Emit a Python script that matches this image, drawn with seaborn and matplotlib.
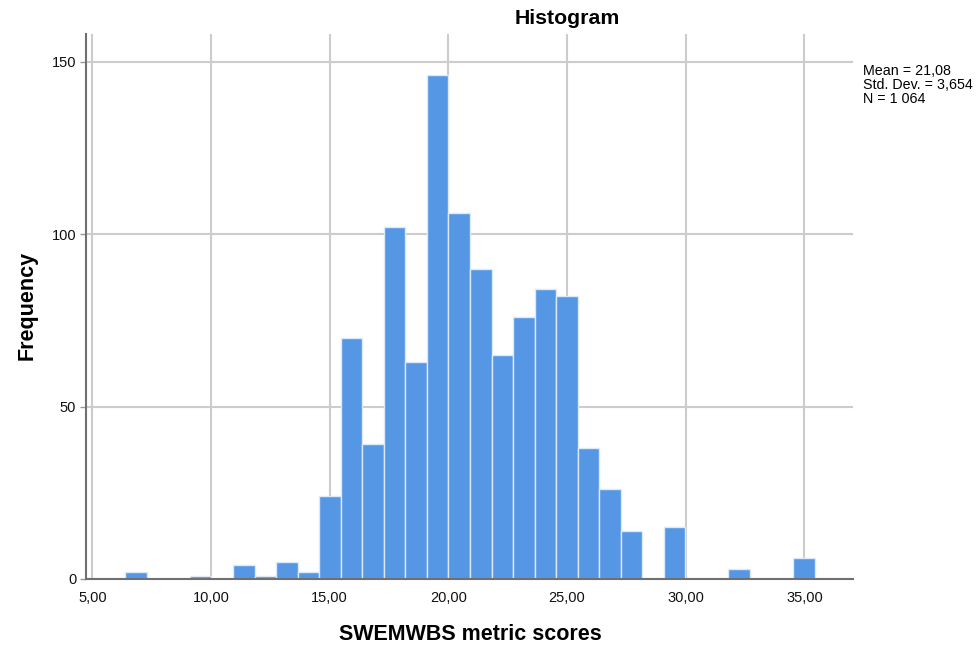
import numpy as np
import pandas as pd
import matplotlib
matplotlib.use("Agg")
import matplotlib.pyplot as plt
import seaborn as sns

# Histogram bins (32 bins of equal width)
bin_start = 6.385
bin_width = 0.9078
counts = [2, 0, 0, 1, 0, 4, 1, 5, 2, 24, 70, 39, 102, 63, 146, 106,
          90, 65, 76, 84, 82, 38, 26, 14, 0, 15, 0, 0, 3, 0, 0, 6]
x_ticks = [5, 10, 15, 20, 25, 30, 35]
x_tick_labels = ["5,00", "10,00", "15,00", "20,00", "25,00", "30,00", "35,00"]
y_ticks = [0, 50, 100, 150]
stats_text = "Mean = 21,08\nStd. Dev. = 3,654\nN = 1 064"

edges = bin_start + bin_width * np.arange(len(counts) + 1)
df = pd.DataFrame({"score": (edges[:-1] + edges[1:]) / 2, "n": counts})

sns.set_theme(style="white")
plt.rcParams["font.family"] = ["Liberation Sans", "DejaVu Sans"]

fig = plt.figure(figsize=(9.79, 6.48), dpi=100)
ax = fig.add_axes([86 / 979, 1 - 579 / 648, (853 - 86) / 979, (579 - 34) / 648])

sns.histplot(data=df, x="score", weights="n", binwidth=bin_width,
             binrange=(edges[0], edges[-1]), ax=ax,
             color="#5596e5", alpha=1, edgecolor="#dce9f8", linewidth=1)

ax.set_xlim(4.73, 37.05)
ax.set_ylim(0, 158)
ax.set_xticks(x_ticks)
ax.set_xticklabels(x_tick_labels)
ax.set_yticks(y_ticks)
ax.grid(True, color="#cccccc", linewidth=1.5)
ax.set_axisbelow(True)

for side in ["top", "right"]:
    ax.spines[side].set_visible(False)
for side in ["left", "bottom"]:
    ax.spines[side].set_color("#707070")
    ax.spines[side].set_linewidth(1.5)

ax.tick_params(axis="x", length=0, pad=9, labelsize=10.5, colors="#111111")
ax.tick_params(axis="y", length=4, width=1, color="#999999", pad=3,
               labelsize=10.5, labelcolor="#111111", left=True)

ax.set_xlabel("SWEMWBS metric scores", fontsize=15.5, fontweight="bold", color="black")
ax.set_ylabel("Frequency", fontsize=15.5, fontweight="bold", color="black")
ax.xaxis.set_label_coords((470 - 86) / 767, -(635 - 579) / 545)
ax.yaxis.set_label_coords(-(86 - 27) / 767, (579 - 305) / 545)
ax.xaxis.label.set_va("center")
ax.yaxis.label.set_va("center")

fig.text(567 / 979, 1 - 18 / 648, "Histogram", ha="center", va="center",
         fontsize=15.3, fontweight="bold", color="black")
fig.text(863 / 979, 1 - 64 / 648, stats_text, ha="left", va="top",
         fontsize=10.3, linespacing=1.0, color="black")

fig.savefig("out.png", dpi=100)
